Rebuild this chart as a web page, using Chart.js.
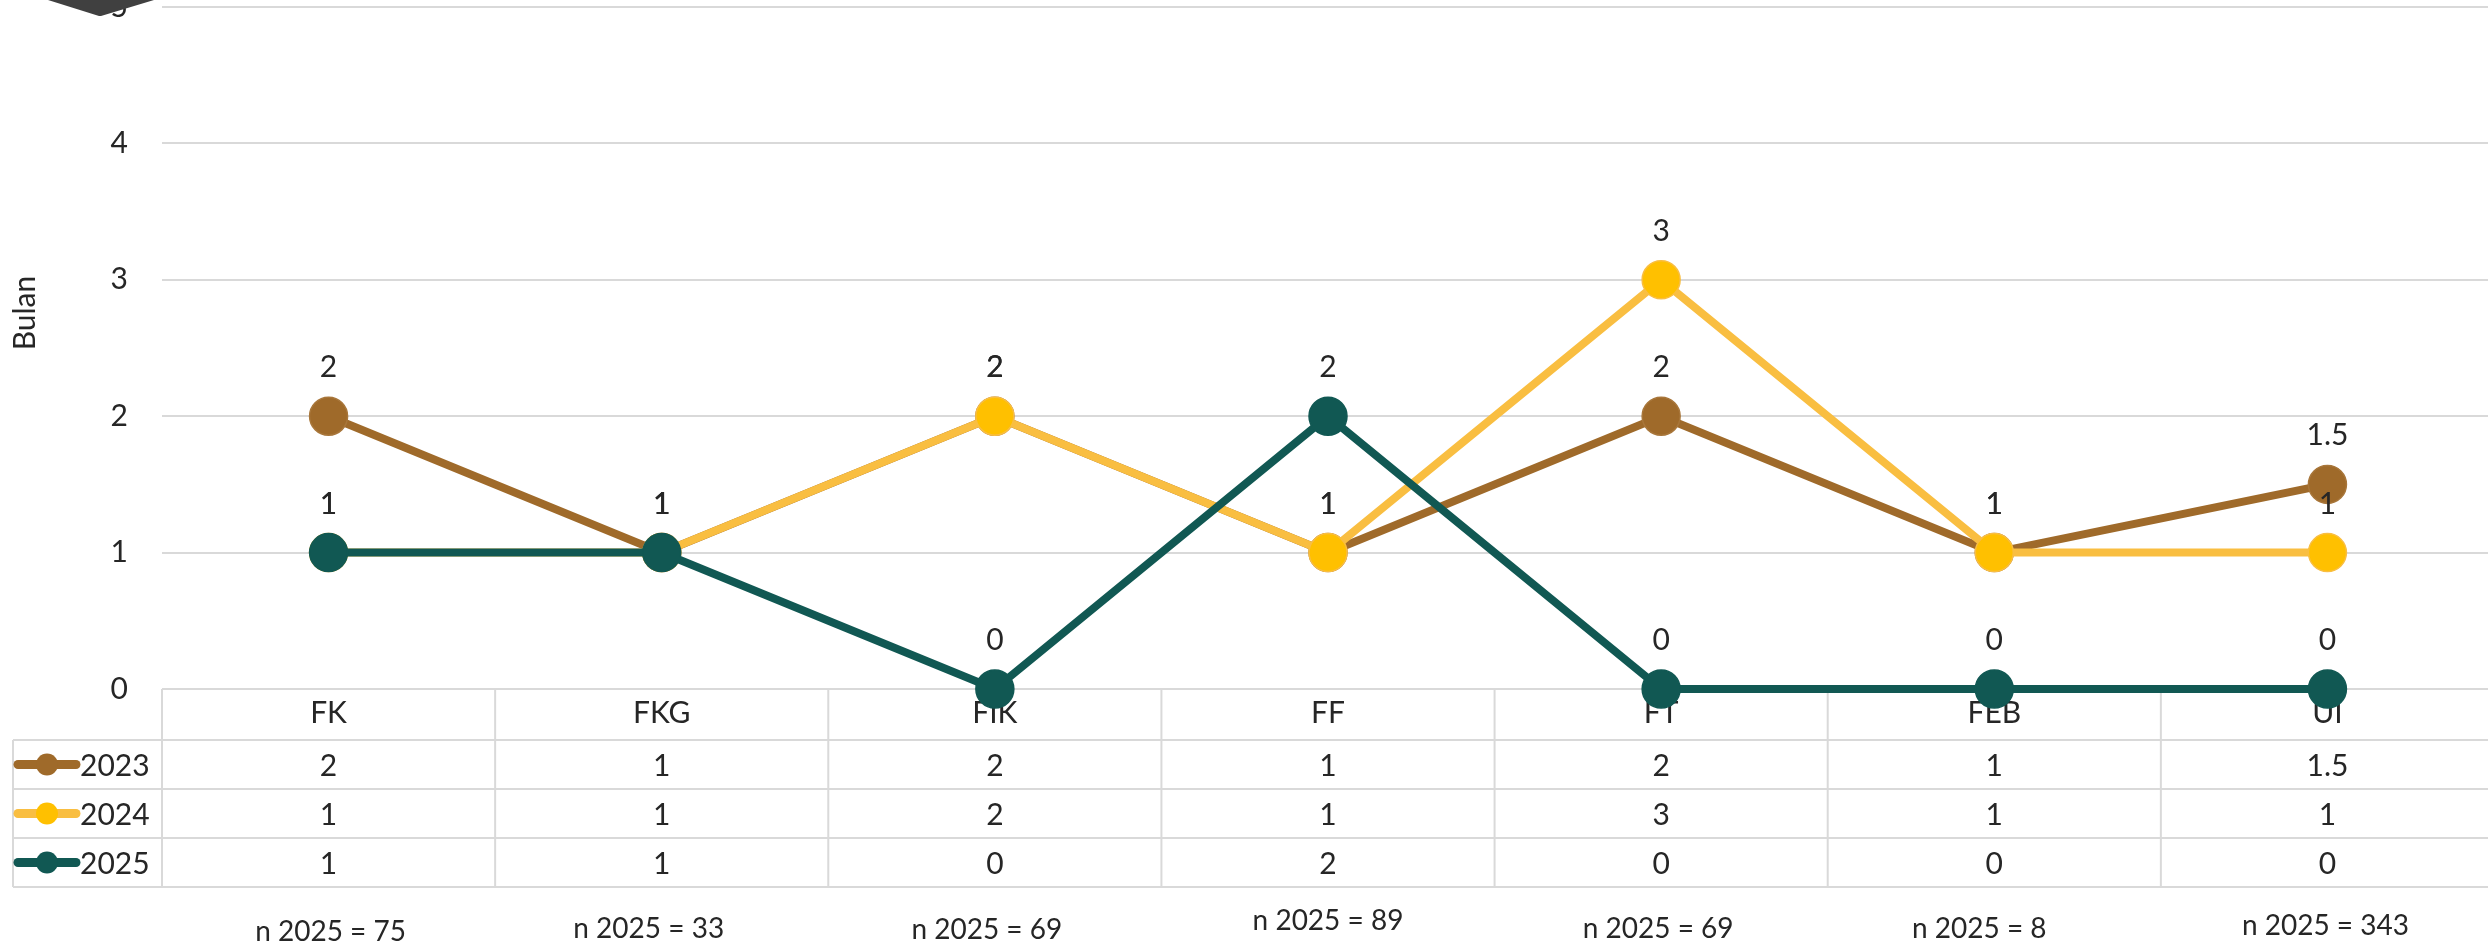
<!DOCTYPE html>
<html>
<head>
<meta charset="utf-8">
<script src="https://cdn.jsdelivr.net/npm/chart.js@4/dist/chart.umd.min.js"></script>
<style>
html,body{margin:0;padding:0;background:#fff;overflow:hidden;width:2488px;height:944px}
#wrap{position:absolute;left:0;top:0;width:2494px;height:944px}
</style>
</head>
<body>
<div id="wrap"><canvas id="c" width="2494" height="944"></canvas></div>
<script>
// ---- data ----
const categories = ['FK', 'FKG', 'FIK', 'FF', 'FT', 'FEB', 'UI'];
const seriesNames = ['2023', '2024', '2025'];
const values2023 = [2, 1, 2, 1, 2, 1, 1.5];
const values2024 = [1, 1, 2, 1, 3, 1, 1];
const values2025 = [1, 1, 0, 2, 0, 0, 0];
const yTickValues = [0, 1, 2, 3, 4, 5];
const nLabels = ['n 2025 = 75', 'n 2025 = 33', 'n 2025 = 69', 'n 2025 = 89', 'n 2025 = 69', 'n 2025 = 8', 'n 2025 = 343'];
const yAxisTitle = 'Bulan';

// ---- styling ----
const FONT = 'Lato, "Open Sans", sans-serif';
const TEXT = '#262626';
const GRID = '#D9D9D9';
const seriesStyle = [
  { line: '#9F6A2A', fill: '#9F6A2A', border: '#A8763A' },
  { line: '#F9BE41', fill: '#FFC000', border: '#F9BE41' },
  { line: '#115853', fill: '#115853', border: '#115853' }
];
const seriesValues = [values2023, values2024, values2025];

const fmt = v => String(v);

const datasets = seriesNames.map((name, i) => ({
  label: name,
  data: seriesValues[i],
  borderColor: seriesStyle[i].line,
  backgroundColor: seriesStyle[i].fill,
  pointBackgroundColor: seriesStyle[i].fill,
  pointBorderColor: seriesStyle[i].border,
  pointBorderWidth: 1.5,
  pointRadius: 19,
  pointHoverRadius: 19,
  borderWidth: 8,
  tension: 0,
  clip: false,
  order: seriesNames.length - i
}));

const tablePlugin = {
  id: 'dataTable',
  beforeDatasetsDraw(chart, args, o) {
    const { ctx, chartArea, scales: { x } } = chart;
    const top = chartArea.bottom;
    const firstRowTop = top + o.headerHeight;
    const nRows = seriesNames.length;
    const bottom = firstRowTop + nRows * o.rowHeight;
    const right = chart.width;
    ctx.save();
    ctx.strokeStyle = GRID;
    ctx.lineWidth = 2;
    ctx.beginPath();
    for (let r = 0; r <= nRows; r++) {
      const y = firstRowTop + r * o.rowHeight;
      ctx.moveTo(o.legendLeft, y); ctx.lineTo(right, y);
    }
    ctx.moveTo(o.legendLeft, firstRowTop); ctx.lineTo(o.legendLeft, bottom);
    for (let i = 0; i < categories.length; i++) {
      const xb = i === 0 ? chartArea.left : (x.getPixelForValue(i - 1) + x.getPixelForValue(i)) / 2;
      ctx.moveTo(xb, top); ctx.lineTo(xb, bottom);
    }
    ctx.stroke();

    // rows
    ctx.font = '30px ' + FONT;
    ctx.fillStyle = TEXT;
    ctx.textBaseline = 'alphabetic';
    for (let r = 0; r < nRows; r++) {
      const cy = firstRowTop + r * o.rowHeight + o.rowHeight / 2;
      // legend key
      ctx.strokeStyle = seriesStyle[r].line;
      ctx.lineWidth = 9;
      ctx.lineCap = 'round';
      ctx.beginPath();
      ctx.moveTo(o.keyX0, cy); ctx.lineTo(o.keyX1, cy);
      ctx.stroke();
      ctx.fillStyle = seriesStyle[r].fill;
      ctx.beginPath();
      ctx.arc((o.keyX0 + o.keyX1) / 2, cy, 11, 0, Math.PI * 2);
      ctx.fill();
      ctx.fillStyle = TEXT;
      ctx.textAlign = 'left';
      ctx.fillText(seriesNames[r], o.keyTextX, cy + 11);
      ctx.textAlign = 'center';
      seriesValues[r].forEach((v, i) => {
        ctx.fillText(fmt(v), x.getPixelForValue(i), cy + 11);
      });
    }
    ctx.restore();
  },
  afterDatasetsDraw(chart, args, o) {
    const { ctx, scales: { x } } = chart;
    ctx.save();
    // data labels
    ctx.font = '30px ' + FONT;
    ctx.fillStyle = TEXT;
    ctx.textAlign = 'center';
    ctx.textBaseline = 'alphabetic';
    chart.data.datasets.forEach((ds, i) => {
      const meta = chart.getDatasetMeta(i);
      meta.data.forEach((pt, j) => {
        ctx.fillText(fmt(ds.data[j]), pt.x, pt.y - 39);
      });
    });
    // n notes
    ctx.font = '28px ' + FONT;
    nLabels.forEach((t, i) => {
      ctx.fillText(t, x.getPixelForValue(i) + o.noteDx[i], o.noteBaseline[i]);
    });
    // axis title
    ctx.font = '30px ' + FONT;
    ctx.translate(o.titleX, o.titleY);
    ctx.rotate(-Math.PI / 2);
    ctx.textBaseline = 'middle';
    ctx.fillText(yAxisTitle, 0, 0);
    ctx.restore();
  },
  afterDraw(chart) {
    const { ctx } = chart;
    ctx.save();
    ctx.fillStyle = '#404040';
    ctx.beginPath();
    ctx.moveTo(48, 0); ctx.lineTo(154, 0); ctx.lineTo(101, 16); ctx.lineTo(99, 16);
    ctx.closePath();
    ctx.fill();
    ctx.restore();
  }
};

new Chart(document.getElementById('c'), {
  type: 'line',
  data: { labels: categories, datasets },
  options: {
    responsive: false,
    devicePixelRatio: 1,
    animation: false,
    events: [],
    layout: { autoPadding: false, padding: { top: 7, left: 0, right: 0, bottom: 0 } },
    plugins: {
      legend: { display: false },
      tooltip: { enabled: false },
      dataTable: {
        headerHeight: 51, rowHeight: 49, legendLeft: 13,
        keyX0: 18, keyX1: 76, keyTextX: 80,
        noteDx: [2, -13, -8, 0, -3, -15, -2],
        noteBaseline: [941, 938, 939, 930, 938, 938, 935],
        titleX: 25, titleY: 313
      }
    },
    scales: {
      x: {
        type: 'category',
        offset: true,
        grid: { display: false, drawTicks: false },
        border: { display: false },
        ticks: { font: { family: FONT, size: 30 }, color: TEXT, padding: 6, autoSkip: false, maxRotation: 0 },
        afterFit: s => { s.height = 255; s.paddingLeft = 0; s.paddingRight = 0; }
      },
      y: {
        min: 0, max: 5,
        afterBuildTicks: s => { s.ticks = yTickValues.map(v => ({ value: v })); },
        grid: { color: GRID, lineWidth: 2, drawTicks: false },
        border: { display: false },
        ticks: { font: { family: FONT, size: 30 }, color: TEXT, padding: 34 },
        afterFit: s => { s.width = 162; s.paddingTop = 0; s.paddingBottom = 0; }
      }
    }
  },
  plugins: [tablePlugin]
});
</script>
</body>
</html>
